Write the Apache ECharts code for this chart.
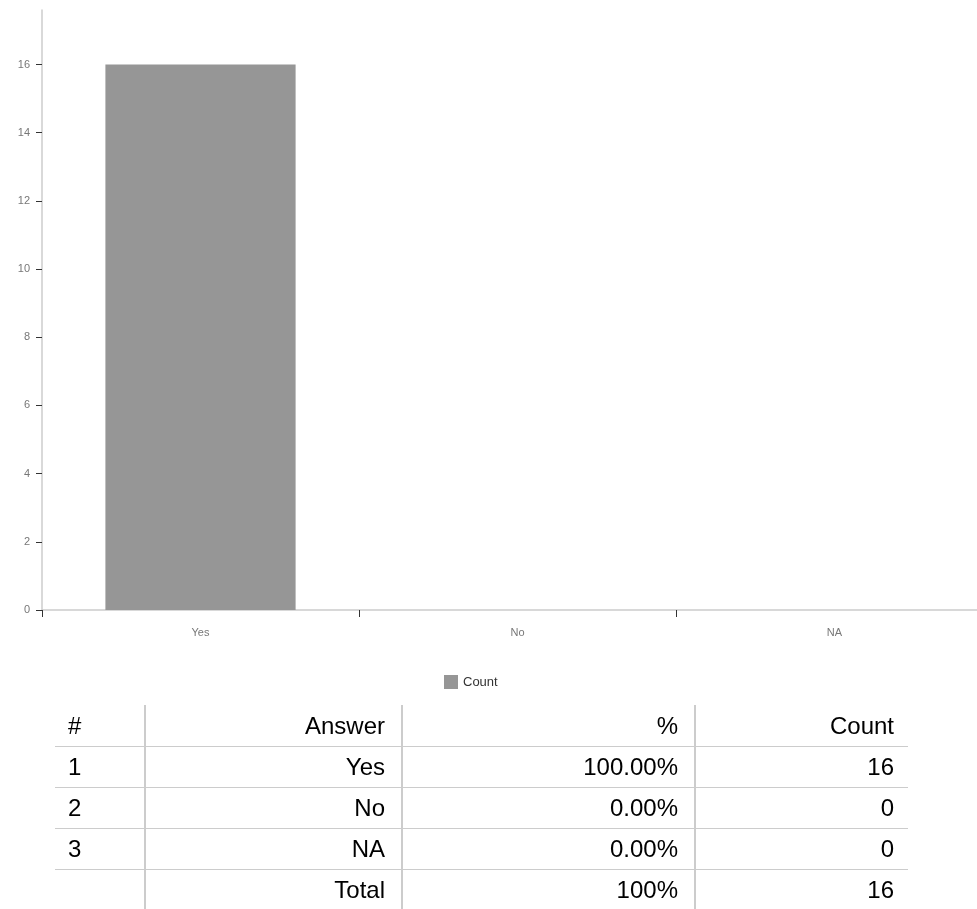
<!DOCTYPE html>
<html><head><meta charset="utf-8">
<script src="https://cdn.jsdelivr.net/npm/echarts@6/dist/echarts.min.js"></script>
<style>
html,body{margin:0;padding:0;background:#fff;overflow:hidden;}
#chart{position:absolute;left:0;top:0;width:977px;height:909px;}
#tbl{position:absolute;left:55px;top:705px;border-collapse:collapse;font-family:"Liberation Sans",Arial,sans-serif;font-size:24px;color:#000;}
#tbl td{padding:0;height:40px;line-height:40px;text-align:right;border-bottom:1.5px solid #ccc;}
#tbl tr:first-child td{height:41px;}
#tbl tr:last-child td{border-bottom:none;}
#tbl td.c0{width:76px;text-align:left;padding-left:13px;}
#tbl td.c1{width:239px;padding-right:16px;border-left:2px solid #ccc;}
#tbl td.c2{width:275px;padding-right:16px;border-left:2px solid #ccc;}
#tbl td.c3{width:198px;padding-right:14px;border-left:2px solid #ccc;}
</style></head>
<body>
<div id="chart"></div>
<table id="tbl"></table>
<script>
const categories = ["Yes", "No", "NA"];
const counts = [16, 0, 0];
const yTicks = [0, 2, 4, 6, 8, 10, 12, 14, 16];
const tableHeader = ["#", "Answer", "%", "Count"];
const tableRows = [["1", "Yes", "100.00%", "16"], ["2", "No", "0.00%", "0"], ["3", "NA", "0.00%", "0"], ["", "Total", "100%", "16"]];

const tbl = document.getElementById('tbl');
[tableHeader].concat(tableRows).forEach(r => {
  const tr = document.createElement('tr');
  r.forEach((c, i) => { const td = document.createElement('td'); td.className = 'c' + i; td.textContent = c; tr.appendChild(td); });
  tbl.appendChild(tr);
});

const chart = echarts.init(document.getElementById('chart'));
chart.setOption({
  animation: false,
  textStyle: { fontFamily: "Liberation Sans, Arial, sans-serif" },
  grid: { left: 42, right: -16, top: 10, bottom: 299, containLabel: false, outerBoundsMode: 'none' },
  legend: {
    data: ["Count"], left: 444, top: 675, padding: 0, itemWidth: 14, itemHeight: 14, itemGap: 7,
    icon: 'rect', textStyle: { color: '#333', fontSize: 13 }
  },
  xAxis: {
    type: 'category', data: categories,
    axisLine: { lineStyle: { color: '#ccc', width: 1.5 } },
    axisTick: { show: true, length: 7, lineStyle: { color: '#333' } },
    axisLabel: { color: '#777', fontSize: 11, margin: 17 }
  },
  yAxis: {
    type: 'value', min: 0, max: 17.6,
    splitLine: { show: false },
    axisLine: { show: true, lineStyle: { color: '#ccc', width: 1.5 } },
    axisTick: { show: true, length: 6, lineStyle: { color: '#333' }, customValues: yTicks },
    axisLabel: { color: '#777', fontSize: 11, margin: 12, customValues: yTicks }
  },
  series: [{
    name: 'Count', type: 'bar', data: counts, barWidth: '60%',
    itemStyle: { color: '#969696' }
  }]
});
</script>
</body></html>
